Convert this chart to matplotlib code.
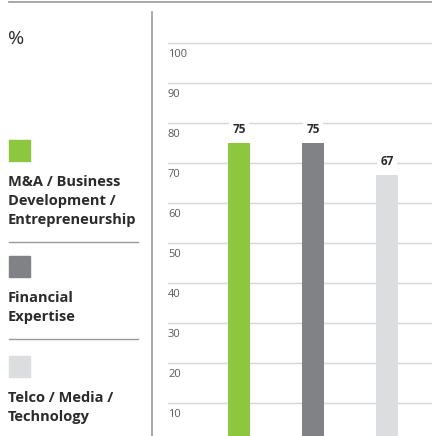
import matplotlib.pyplot as plt
from matplotlib.patches import Rectangle
from matplotlib.lines import Line2D

plt.rcParams["font.family"] = ["Open Sans", "DejaVu Sans"]

# data
categories = ["M&A / Business\nDevelopment /\nEntrepreneurship",
              "Financial\nExpertise",
              "Telco / Media /\nTechnology"]
values = [75, 75, 67]
colors = ["#8DC63F", "#808285", "#DCDDDE"]
grid_ticks = [10, 20, 30, 40, 50, 60, 70, 80, 90, 100]

W, H = 432, 436
fig = plt.figure(figsize=(W / 100, H / 100), dpi=100)


def fx(px):
    return px / W


def fy(py):
    return 1 - py / H


TEXT = "#2b2b2b"
RULE = "#9a9a9a"

# plot area: x from 168 px to right edge, full height
ax = fig.add_axes([fx(168), 0, 1 - fx(168), 1])
ax.set_xlim(-0.959, 2.608)
ax.set_ylim(1.75, 110.75)
ax.axis("off")

for t in grid_ticks:
    ax.axhline(t, color="#d6d6d6", lw=1.0, zorder=1)
    ax.annotate(str(t), xy=(0, t), xycoords=("axes fraction", "data"),
                xytext=(0, -4.5), textcoords="offset points",
                ha="left", va="top", fontsize=8, color="#5a5a5a")

x = list(range(len(values)))
ax.bar(x, values, width=0.297, color=colors, zorder=2)
for xi, v in zip(x, values):
    ax.annotate(str(v), xy=(xi, v), xytext=(0, 5), textcoords="offset points",
                ha="center", va="bottom", fontsize=8.5, fontweight="bold",
                color=TEXT, zorder=3,
                bbox=dict(boxstyle="square,pad=0.3", fc="white", ec="none"))

# frame rules
fig.add_artist(Line2D([fx(9), 1], [fy(2), fy(2)], color=RULE, lw=1.2))
fig.add_artist(Line2D([fx(152), fx(152)], [fy(12), 0], color=RULE, lw=1.2))

# left legend
fig.text(fx(8), fy(44), "%", fontsize=14, color=TEXT, va="baseline")

sq_tops = [140, 256, 356]
for top, col, lab in zip(sq_tops, colors, categories):
    fig.add_artist(Rectangle((fx(9), fy(top + 21)), fx(21), 21 / H,
                             color=col, transform=fig.transFigure))
    fig.text(fx(8), fy(top + 35), lab, fontsize=10.5, fontweight="bold",
             color=TEXT, va="top", linespacing=1.45)

for sy in [242, 339]:
    fig.add_artist(Line2D([fx(9), fx(138)], [fy(sy), fy(sy)], color=RULE, lw=1.0))

fig.savefig("out.png", dpi=100)
